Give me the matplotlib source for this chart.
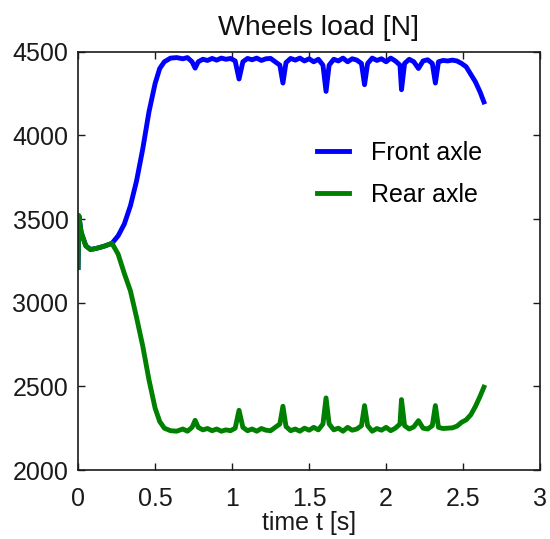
import matplotlib
matplotlib.use('Agg')
import matplotlib.pyplot as plt

plt.rcParams['font.family'] = ['Liberation Sans', 'DejaVu Sans']

# time samples [s]
time_s = [0.000, 0.005, 0.02, 0.05, 0.08, 0.12, 0.17, 0.22, 0.26, 0.30,
          0.34, 0.38, 0.42, 0.46, 0.50, 0.53, 0.56, 0.60, 0.64, 0.68,
          0.71, 0.74, 0.76, 0.78, 0.81, 0.84, 0.87, 0.90, 0.93, 0.96,
          0.99, 1.02, 1.045, 1.07, 1.10, 1.13, 1.16, 1.19, 1.22, 1.25,
          1.28, 1.31, 1.33, 1.35, 1.38, 1.41, 1.44, 1.47, 1.50, 1.53,
          1.56, 1.59, 1.61, 1.63, 1.66, 1.69, 1.72, 1.75, 1.78, 1.81,
          1.84, 1.86, 1.88, 1.91, 1.94, 1.97, 2.00, 2.03, 2.06, 2.09,
          2.10, 2.12, 2.15, 2.18, 2.21, 2.24, 2.27, 2.30, 2.32, 2.34,
          2.37, 2.40, 2.43, 2.46, 2.49, 2.52, 2.55, 2.58, 2.61, 2.635]

# front axle load [N]
front = [3210, 3520, 3420, 3340, 3318, 3325, 3338, 3355, 3400, 3470,
         3580, 3730, 3920, 4140, 4310, 4400, 4440, 4462, 4465, 4458,
         4465, 4440, 4402, 4440, 4455, 4448, 4460, 4450, 4462, 4455,
         4460, 4445, 4337, 4440, 4460, 4452, 4462, 4448, 4458, 4460,
         4440, 4420, 4313, 4435, 4460, 4450, 4462, 4445, 4458, 4440,
         4455, 4420, 4263, 4420, 4455, 4445, 4462, 4440, 4458, 4450,
         4430, 4303, 4430, 4462, 4448, 4458, 4440, 4462, 4445, 4420,
         4273, 4430, 4455, 4440, 4400, 4445, 4452, 4430, 4313, 4440,
         4448, 4445, 4450, 4445, 4430, 4410, 4365, 4320, 4260, 4200]

# rear axle load [N]
rear = [3210, 3520, 3420, 3340, 3318, 3325, 3338, 3355, 3290, 3175,
        3070, 2910, 2740, 2540, 2370, 2290, 2250, 2235, 2232, 2245,
        2232, 2255, 2297, 2255, 2240, 2248, 2235, 2245, 2232, 2240,
        2235, 2250, 2357, 2255, 2235, 2245, 2232, 2248, 2238, 2235,
        2255, 2275, 2381, 2260, 2235, 2245, 2232, 2250, 2238, 2255,
        2240, 2275, 2431, 2275, 2240, 2250, 2232, 2255, 2238, 2245,
        2265, 2385, 2265, 2232, 2248, 2238, 2255, 2235, 2250, 2275,
        2421, 2265, 2245, 2258, 2295, 2250, 2245, 2265, 2385, 2255,
        2248, 2250, 2252, 2262, 2285, 2300, 2330, 2380, 2440, 2495]

fig = plt.figure(figsize=(5.5, 5.39), dpi=100)
ax = fig.add_axes([0.142, 0.128, 0.840, 0.776])

ax.plot(time_s, front, color='#0000ff', lw=3.5, label='Front axle')
ax.plot(time_s, rear, color='#008000', lw=3.5, label='Rear axle')

ax.set_xlim(0, 3)
ax.set_ylim(2000, 4500)
ax.set_xticks([0, 0.5, 1, 1.5, 2, 2.5, 3])
ax.set_xticklabels(['0', '0.5', '1', '1.5', '2', '2.5', '3'])
ax.set_yticks([2000, 2500, 3000, 3500, 4000, 4500])
ax.tick_params(direction='in', top=True, right=True, length=5, width=1,
               labelsize=18, colors='#1a1a1a')
ax.tick_params(axis='x', pad=12)
ax.tick_params(axis='y', pad=7)
for s in ax.spines.values():
    s.set_linewidth(1.2)
    s.set_color('#1a1a1a')

ax.set_title('Wheels load [N]', fontsize=20.5, color='#111111', pad=12, x=0.52)
ax.set_xlabel('time t [s]', fontsize=18, color='#1a1a1a', labelpad=0)

ax.legend(loc='center left', bbox_to_anchor=(0.468, 0.708), frameon=False,
          fontsize=18, handlelength=1.3, handletextpad=0.85, labelspacing=0.73)

fig.savefig('out.png', dpi=100)
